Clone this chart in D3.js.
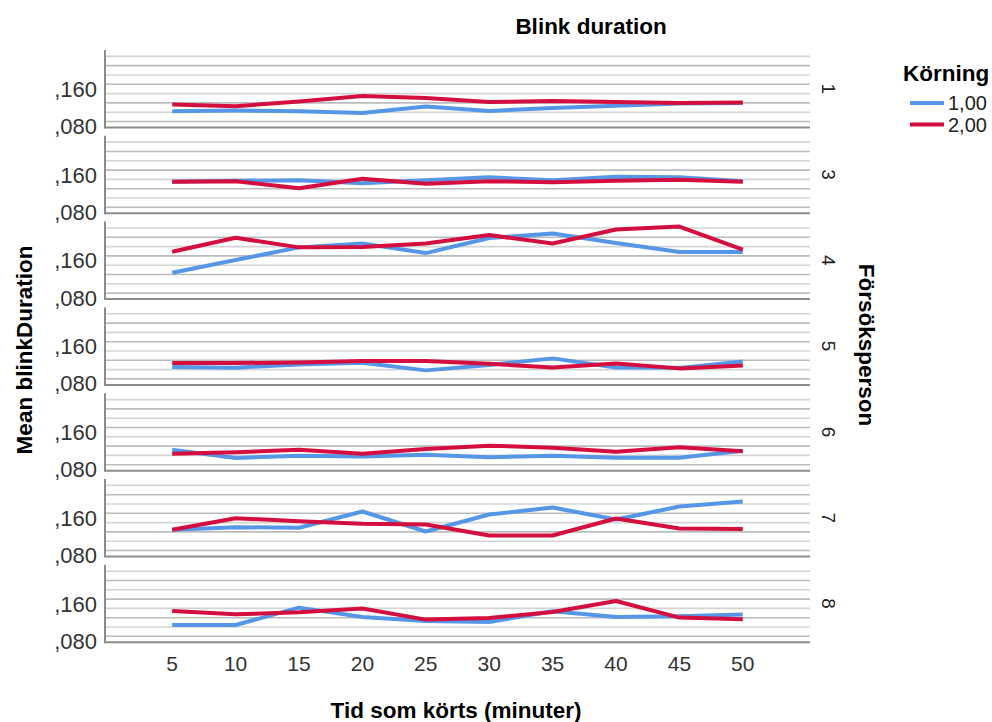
<!DOCTYPE html>
<html>
<head>
<meta charset="utf-8">
<script src="https://cdn.jsdelivr.net/npm/d3@7"></script>
<style>
  body { margin: 0; background: #fff; }
  text { font-family: "Liberation Sans", Arial, sans-serif; }
</style>
</head>
<body>
<script>
// ---- data ----
const categories = ["5", "10", "15", "20", "25", "30", "35", "40", "45", "50"];
const persons = ["1", "3", "4", "5", "6", "7", "8"];
const seriesNames = ["1,00", "2,00"];
// Körning 1,00 — one row per Försöksperson
const run1Values = [
  [0.1022, 0.1037, 0.1022, 0.0983, 0.1123, 0.1026, 0.1090, 0.1140, 0.1187, 0.1198],
  [0.1348, 0.1370, 0.1381, 0.1316, 0.1381, 0.1445, 0.1381, 0.1456, 0.1445, 0.1359],
  [0.1237, 0.1510, 0.1783, 0.1865, 0.1660, 0.1983, 0.2080, 0.1875, 0.1682, 0.1682],
  [0.1054, 0.1041, 0.1112, 0.1148, 0.0983, 0.1101, 0.1241, 0.1047, 0.1037, 0.1176],
  [0.1123, 0.0944, 0.0994, 0.0978, 0.1015, 0.0961, 0.0994, 0.0951, 0.0951, 0.1101],
  [0.1245, 0.1301, 0.1288, 0.1639, 0.1209, 0.1574, 0.1725, 0.1467, 0.1746, 0.1854],
  [0.1043, 0.1043, 0.1417, 0.1215, 0.1129, 0.1108, 0.1338, 0.1215, 0.1230, 0.1267]
];
// Körning 2,00
const run2Values = [
  [0.1166, 0.1129, 0.1230, 0.1348, 0.1305, 0.1220, 0.1241, 0.1220, 0.1198, 0.1209],
  [0.1348, 0.1359, 0.1209, 0.1413, 0.1305, 0.1359, 0.1338, 0.1370, 0.1391, 0.1348],
  [0.1688, 0.1989, 0.1783, 0.1789, 0.1865, 0.2047, 0.1865, 0.2166, 0.2230, 0.1735],
  [0.1140, 0.1140, 0.1155, 0.1183, 0.1183, 0.1123, 0.1047, 0.1133, 0.1026, 0.1090],
  [0.1037, 0.1065, 0.1123, 0.1037, 0.1138, 0.1209, 0.1166, 0.1080, 0.1176, 0.1090],
  [0.1245, 0.1495, 0.1430, 0.1374, 0.1359, 0.1123, 0.1123, 0.1488, 0.1273, 0.1262],
  [0.1344, 0.1273, 0.1316, 0.1396, 0.1159, 0.1194, 0.1323, 0.1559, 0.1202, 0.1166]
];
const yTickValues = [0.08, 0.16];
const yTickLabels = [",080", ",160"];
const gridValues = [0.08, 0.10, 0.12, 0.14, 0.16, 0.18, 0.20, 0.22];
const colors = ["#5597e6", "#d40f3f"];

// ---- layout ----
const W = 992, H = 722;
const plotLeft = 105, plotRight = 810, plotTop = 50, plotBottom = 642.3;

const svg = d3.select("body").append("svg")
  .attr("width", W).attr("height", H);

const x = d3.scalePoint().domain(categories).range([plotLeft, plotRight]).padding(1.06);
const band = d3.scaleBand().domain(persons).range([plotTop, plotBottom]).paddingInner(0.097);
const bw = band.bandwidth();
const y = d3.scaleLinear().domain([0.0671, 0.2337]).range([bw, 0]);

const line = d3.line()
  .x((d, i) => x(categories[i]))
  .y(d => y(d));

persons.forEach((p, pi) => {
  const g = svg.append("g").attr("transform", `translate(0,${band(p)})`);

  // gridlines
  g.selectAll("line.grid").data(gridValues).enter().append("line")
    .attr("x1", plotLeft).attr("x2", plotRight)
    .attr("y1", d => y(d)).attr("y2", d => y(d))
    .attr("stroke", (d, i) => i % 2 === 0 ? "#bcbcbc" : "#d4d4d4")
    .attr("stroke-width", 1.6);

  // axes lines
  g.append("line").attr("x1", plotLeft).attr("x2", plotRight)
    .attr("y1", bw).attr("y2", bw)
    .attr("stroke", "#8c8c8c").attr("stroke-width", 2);
  g.append("line").attr("x1", plotLeft).attr("x2", plotLeft)
    .attr("y1", 0).attr("y2", bw + 1)
    .attr("stroke", "#8c8c8c").attr("stroke-width", 2);

  // y tick labels
  g.selectAll("text.yt").data(yTickValues).enter().append("text")
    .attr("x", plotLeft - 8).attr("y", d => y(d) + 5)
    .attr("text-anchor", "end").attr("dominant-baseline", "central")
    .attr("font-size", 22).attr("fill", "#333")
    .text((d, i) => yTickLabels[i]);

  // series lines
  [run1Values[pi], run2Values[pi]].forEach((vals, si) => {
    g.append("path").datum(vals)
      .attr("d", line)
      .attr("fill", "none")
      .attr("stroke", colors[si])
      .attr("stroke-width", 4)
      .attr("stroke-linejoin", "round");
  });

  // strip label
  g.append("text")
    .attr("transform", `translate(828,${bw / 2}) rotate(90)`)
    .attr("text-anchor", "middle").attr("dominant-baseline", "central")
    .attr("font-size", 19).attr("fill", "#222")
    .text(p);
});

// x tick labels
svg.selectAll("text.xt").data(categories).enter().append("text")
  .attr("x", d => x(d)).attr("y", 663)
  .attr("text-anchor", "middle").attr("dominant-baseline", "central")
  .attr("font-size", 21).attr("fill", "#333")
  .text(d => d);

// titles
const titleSize = 22.5;
svg.append("text").attr("x", 591).attr("y", 26)
  .attr("text-anchor", "middle").attr("dominant-baseline", "central")
  .attr("font-size", titleSize).attr("font-weight", "bold").attr("fill", "#000")
  .text("Blink duration");

svg.append("text").attr("x", 456).attr("y", 710)
  .attr("text-anchor", "middle").attr("dominant-baseline", "central")
  .attr("font-size", titleSize).attr("font-weight", "bold").attr("fill", "#000")
  .text("Tid som körts (minuter)");

svg.append("text")
  .attr("transform", "translate(24,350) rotate(-90)")
  .attr("text-anchor", "middle").attr("dominant-baseline", "central")
  .attr("font-size", titleSize).attr("font-weight", "bold").attr("fill", "#000")
  .text("Mean blinkDuration");

svg.append("text")
  .attr("transform", "translate(866,345) rotate(90)")
  .attr("text-anchor", "middle").attr("dominant-baseline", "central")
  .attr("font-size", titleSize).attr("font-weight", "bold").attr("fill", "#000")
  .text("Försöksperson");

// legend
svg.append("text").attr("x", 903).attr("y", 73)
  .attr("dominant-baseline", "central")
  .attr("font-size", titleSize).attr("font-weight", "bold").attr("fill", "#000")
  .text("Körning");

const lg = svg.selectAll("g.leg").data(seriesNames).enter().append("g")
  .attr("transform", (d, i) => `translate(0,${103 + i * 21.5})`);
lg.append("line").attr("x1", 910).attr("x2", 944).attr("y1", 0).attr("y2", 0)
  .attr("stroke", (d, i) => colors[i]).attr("stroke-width", 4);
lg.append("text").attr("x", 948).attr("y", 0)
  .attr("dominant-baseline", "central")
  .attr("font-size", 20).attr("fill", "#222")
  .text(d => d);
</script>
</body>
</html>
